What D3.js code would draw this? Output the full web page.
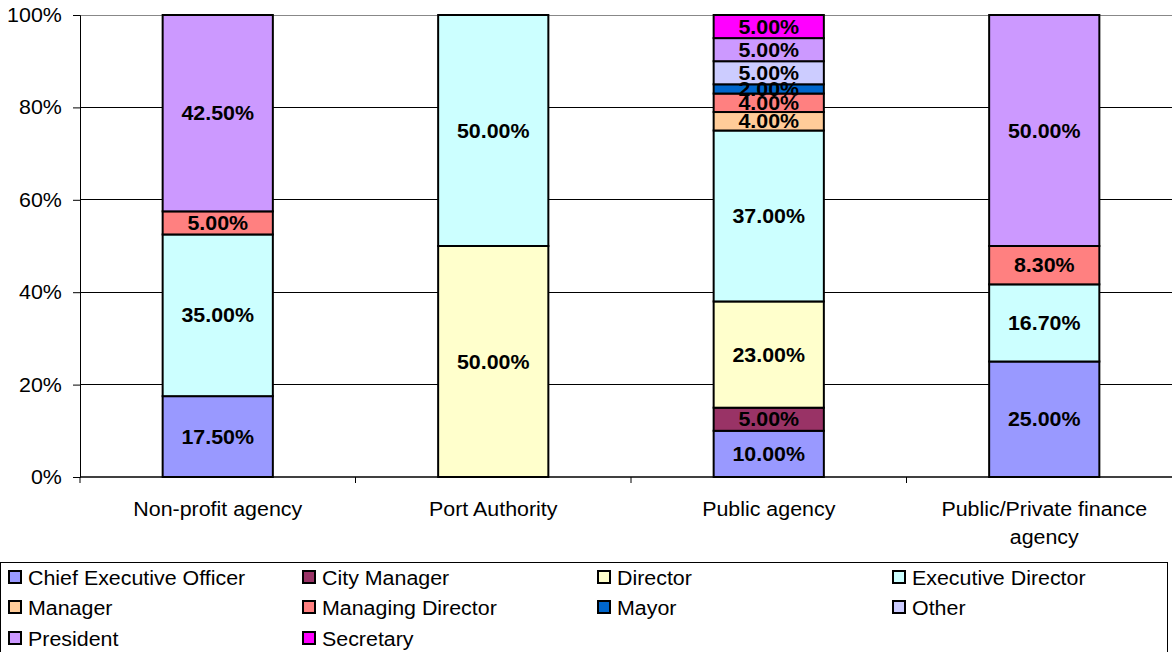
<!DOCTYPE html>
<html><head><meta charset="utf-8">
<script src="https://cdn.jsdelivr.net/npm/d3@7"></script>
<style>body{margin:0;background:#fff;overflow:hidden}svg{display:block;font-family:"Liberation Sans",Arial,sans-serif}</style>
</head><body><svg id="c" width="1172" height="652"></svg>
<script>
const categories = ["Non-profit agency","Port Authority","Public agency","Public/Private finance agency"];
const seriesNames = ["Chief Executive Officer","City Manager","Director","Executive Director","Manager","Managing Director","Mayor","Other","President","Secretary"];
const seriesColors = ["#9999FF","#993366","#FFFFCC","#CCFFFF","#FFCC99","#FF8080","#0066CC","#CCCCFF","#CC99FF","#FF00FF"];
const ceo = [17.5, 0, 10, 25];
const cityManager = [0, 0, 5, 0];
const director = [0, 50, 23, 0];
const execDirector = [35, 50, 37, 16.7];
const manager = [0, 0, 4, 0];
const managingDirector = [5, 0, 4, 8.3];
const mayor = [0, 0, 2, 0];
const other = [0, 0, 5, 0];
const president = [42.5, 0, 5, 50];
const secretary = [0, 0, 5, 0];
const yTicks = [0, 20, 40, 60, 80, 100];

const SX = 1.07, FS = 20;
const seriesValues = [ceo, cityManager, director, execDirector, manager, managingDirector, mayor, other, president, secretary];
const rows = categories.map((c, i) => {
  const r = {cat: c};
  seriesNames.forEach((s, j) => r[s] = seriesValues[j][i]);
  return r;
});
const stack = d3.stack().keys(seriesNames)(rows);

const svg = d3.select("#c");
const L = 80, T = 15, B = 477, R = 1182;
const x = d3.scaleBand().domain(categories).range([L, R]).paddingInner(0.6).paddingOuter(0.3);
const xb = d3.scaleBand().domain(categories).range([L, R]);
const y = d3.scaleLinear().domain([0, 100]).range([B, T]);

function txt(parent, tx, ty, s, opts = {}) {
  return parent.append("text")
    .attr("transform", `translate(${tx},${ty}) scale(${SX},1)`)
    .attr("text-anchor", opts.anchor || "middle")
    .attr("dy", opts.dy || "0.35em")
    .attr("font-size", FS).attr("font-weight", opts.bold ? "bold" : "normal")
    .attr("fill", "#000").text(s);
}

// gridlines
svg.append("g").selectAll("line").data(yTicks.filter(t => t > 0)).join("line")
  .attr("x1", L).attr("x2", R).attr("y1", d => y(d)).attr("y2", d => y(d))
  .attr("stroke", d => d === 100 ? "#888" : "#000").attr("stroke-width", 1).attr("shape-rendering", "crispEdges");

// y axis
const ya = svg.append("g").attr("transform", `translate(${L},0)`)
  .call(d3.axisLeft(y).tickValues(yTicks).tickFormat(d => d + "%").tickSize(7).tickPadding(10));
ya.select(".domain").attr("stroke", "#000");
ya.selectAll("text").attr("font-size", FS).attr("fill", "#000")
  .attr("font-family", "Liberation Sans, Arial, sans-serif").attr("transform", `scale(${SX},1)`);

// bars
const g = svg.append("g");
stack.forEach((layer, j) => {
  g.selectAll(null).data(layer.filter(d => d[1] - d[0] > 0)).join("rect")
    .attr("x", d => x(d.data.cat)).attr("width", x.bandwidth())
    .attr("y", d => y(d[1])).attr("height", d => y(d[0]) - y(d[1]))
    .attr("fill", seriesColors[j]).attr("stroke", "#000").attr("stroke-width", 2);
});
const lg0 = svg.append("g");
stack.forEach((layer, j) => {
  layer.filter(d => d[1] - d[0] > 0).forEach(d => {
    txt(lg0, x(d.data.cat) + x.bandwidth() / 2, (y(d[0]) + y(d[1])) / 2, (d[1] - d[0]).toFixed(2) + "%", {bold: true});
  });
});

// x axis
svg.append("line").attr("x1", L).attr("x2", R).attr("y1", B).attr("y2", B).attr("stroke", "#000").attr("stroke-width", 1.5);
svg.append("g").selectAll("line").data(categories).join("line")
  .attr("x1", d => xb(d)).attr("x2", d => xb(d)).attr("y1", B).attr("y2", B + 6).attr("stroke", "#000");
const xl = svg.append("g");
categories.forEach(d => {
  const lines = d === "Public/Private finance agency" ? ["Public/Private finance", "agency"] : [d];
  lines.forEach((ln, k) => txt(xl, xb(d) + xb.bandwidth() / 2, 509 + k * 28, ln));
});

// legend
svg.append("rect").attr("x", 0.5).attr("y", 562.5).attr("width", 1167).attr("height", 100).attr("fill", "none").attr("stroke", "#000");
const colX = [8, 302, 597, 892], rowY = [578, 608, 639];
const lgd = svg.append("g");
seriesNames.forEach((s, i) => {
  const gx = colX[i % 4], gy = rowY[Math.floor(i / 4)];
  lgd.append("rect").attr("x", gx + 1).attr("y", gy - 7).attr("width", 12).attr("height", 12)
    .attr("fill", seriesColors[i]).attr("stroke", "#000").attr("stroke-width", 2);
  txt(lgd, gx + 20, gy, s, {anchor: "start"});
});
</script></body></html>
